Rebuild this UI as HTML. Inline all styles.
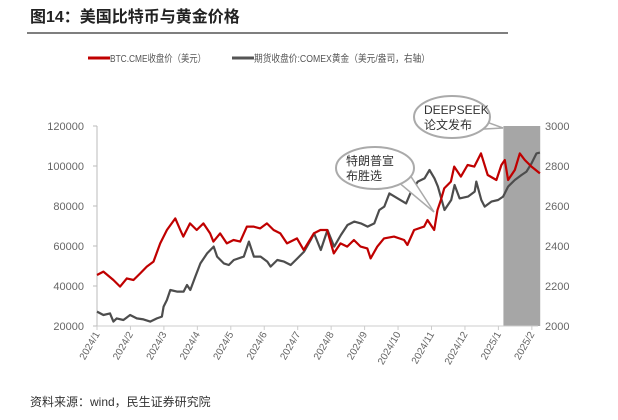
<!DOCTYPE html>
<html><head><meta charset="utf-8">
<style>
body{margin:0;background:#fff;width:618px;height:415px;overflow:hidden;font-family:"Liberation Sans","Noto Sans CJK SC",sans-serif;}
</style></head>
<body>
<svg id="c" width="618" height="415" xmlns="http://www.w3.org/2000/svg"></svg>
<script>
const btcT=[0,0.19,0.49,0.69,0.89,1.09,1.29,1.49,1.69,1.89,2.09,2.34,2.49,2.58,2.78,2.98,3.18,3.38,3.48,3.68,3.88,4.08,4.28,4.48,4.68,4.88,5.08,5.28,5.48,5.68,5.98,6.18,6.48,6.68,6.88,7.08,7.28,7.48,7.68,7.88,8.08,8.18,8.38,8.58,8.88,9.18,9.28,9.48,9.78,9.88,10.08,10.18,10.28,10.38,10.58,10.68,10.88,11.08,11.28,11.48,11.68,11.94,12.09,12.19,12.29,12.49,12.64,12.79,12.99,13.24];
const btcV=[45500,47200,43000,39700,43800,43000,46300,49700,52200,61300,68000,73800,68000,64700,71300,68000,71300,66300,62200,66300,61300,63000,62200,69700,69700,68800,71300,68000,66300,61300,63800,58000,66300,68000,68000,56300,61300,59700,63000,59700,58800,53800,59700,63800,64700,63000,60500,68000,69700,73000,68000,78000,83000,88800,92200,99700,94700,100500,99700,106300,95500,93000,100500,103000,93000,98000,106300,103000,99700,96300];
const goldT=[0,0.19,0.39,0.49,0.59,0.79,0.99,1.19,1.39,1.59,1.79,1.94,1.99,2.09,2.19,2.39,2.59,2.69,2.79,2.94,3.09,3.29,3.49,3.59,3.79,3.94,4.09,4.39,4.54,4.69,4.89,5.09,5.19,5.39,5.59,5.79,5.99,6.19,6.39,6.49,6.69,6.89,7.09,7.29,7.49,7.69,7.89,8.09,8.29,8.44,8.59,8.74,8.99,9.24,9.39,9.59,9.79,9.94,10.09,10.19,10.39,10.59,10.69,10.84,11.09,11.29,11.34,11.49,11.59,11.79,11.99,12.14,12.29,12.49,12.69,12.84,12.99,13.14,13.24];
const goldV=[2072,2055,2063,2022,2038,2030,2055,2038,2033,2022,2038,2047,2097,2130,2180,2172,2172,2205,2180,2247,2313,2363,2397,2347,2313,2305,2330,2347,2422,2347,2347,2322,2297,2330,2322,2305,2338,2372,2430,2463,2380,2480,2397,2455,2505,2522,2513,2497,2513,2580,2597,2663,2638,2613,2672,2722,2738,2780,2738,2697,2580,2630,2705,2638,2647,2672,2722,2630,2597,2622,2630,2647,2697,2730,2755,2772,2813,2863,2867];
const leftTicks=[20000,40000,60000,80000,100000,120000];
const rightTicks=[2000,2200,2400,2600,2800,3000];
const monthLabels=["2024/1","2024/2","2024/3","2024/4","2024/5","2024/6","2024/7","2024/8","2024/9","2024/10","2024/11","2024/12","2025/1","2025/2"];
const shadeRange=[12.15,13.25];

const NS="http://www.w3.org/2000/svg";
const svg=document.getElementById('c');
const X0=97,X1=538,Y0=326,Y1=126;
const xS=t=>X0+t*33.45;
const yL=v=>Y0-(v-20000)/100000*(Y0-Y1);
const yR=v=>Y0-(v-2000)/1000*(Y0-Y1);
function mk(tag,at,parent){const e=document.createElementNS(NS,tag);for(const k in at)e.setAttribute(k,at[k]);(parent||svg).appendChild(e);return e;}

const title=mk('text',{x:30,y:22,'font-size':16,'font-weight':'bold',fill:'#222'});title.textContent='图14：美国比特币与黄金价格';


const rule=mk('line',{x1:27,y1:33,x2:508,y2:33,stroke:'#555','stroke-width':1.5});



// legend
const lg=mk('g',{});


const l1=mk('line',{x1:88,y1:58,x2:110,y2:58,stroke:'#c00000','stroke-width':3},lg);


const t1=mk('text',{x:110,y:62,'font-size':10,fill:'#555',textLength:96,lengthAdjust:'spacingAndGlyphs'},lg);t1.textContent='BTC.CME收盘价（美元）';


const l2=mk('line',{x1:232,y1:58,x2:254,y2:58,stroke:'#555','stroke-width':3},lg);


const t2=mk('text',{x:254,y:62,'font-size':10,fill:'#555',textLength:176,lengthAdjust:'spacingAndGlyphs'},lg);t2.textContent='期货收盘价:COMEX黄金（美元/盎司，右轴）';



// shade
const sh=mk('rect',{x:xS(shadeRange[0]),y:Y1,width:xS(shadeRange[1])-xS(shadeRange[0]),height:Y0-Y1,fill:'#a6a6a6'});



// axes
const ax=mk('line',{x1:X0,y1:Y1,x2:X0,y2:Y0,stroke:'#bbb'});


const bx=mk('line',{x1:X0,y1:Y0,x2:X1,y2:Y0,stroke:'#ccc'});


leftTicks.forEach(v=>{
  const tk=mk('line',{x1:X0-4,y1:yL(v),x2:X0,y2:yL(v),stroke:'#bbb'});
  
  
  const t=mk('text',{x:X0-13,y:yL(v)+4,'font-size':11,fill:'#666','text-anchor':'end'});t.textContent=v;
  
  
});
rightTicks.forEach(v=>{
  const t=mk('text',{x:545,y:yR(v)+4,'font-size':11,fill:'#666'});t.textContent=v;
  
  
});
monthLabels.forEach((m,i)=>{
  const x=xS(i);
  const tk=mk('line',{x1:x,y1:Y0,x2:x,y2:Y0+4,stroke:'#ccc'});
  
  
  const t=mk('text',{x:x+3,y:Y0+8,'font-size':10,fill:'#666','text-anchor':'end',transform:`rotate(-60 ${x+3} ${Y0+8})`});t.textContent=m;
  
  
});

// series
const gp=mk('path',{d:goldT.map((t,i)=>(i?'L':'M')+xS(t).toFixed(1)+' '+yR(goldV[i]).toFixed(1)).join(''),fill:'none',stroke:'#4d4d4d','stroke-width':2.2,'stroke-linejoin':'round'});


const bp=mk('path',{d:btcT.map((t,i)=>(i?'L':'M')+xS(t).toFixed(1)+' '+yL(btcV[i]).toFixed(1)).join(''),fill:'none',stroke:'#c00000','stroke-width':2.2,'stroke-linejoin':'round'});



// callouts
function callout(cx,cy,rx,ry,tx,ty,lines,name){
  const g=mk('g',{});
  
  
  mk('path',{d:`M${cx+rx*0.55} ${cy+ry*0.6} L${tx} ${ty} L${cx+rx*0.85} ${cy+ry*0.2}`,fill:'#fff',stroke:'#aaa','stroke-width':1.5},g);
  mk('ellipse',{cx,cy,rx,ry,fill:'#fff',stroke:'#aaa','stroke-width':2},g);
  mk('path',{d:`M${cx+rx*0.5} ${cy+ry*0.7} L${cx+rx*0.9} ${cy+ry*0.1}`,stroke:'#fff','stroke-width':3},g);
  lines.forEach((s,i)=>{const t=mk('text',{x:cx-rx+10,y:cy-3+i*15,'font-size':12,fill:'#333'},g);t.textContent=s;});
}
callout(375,168,39,21,434,212,['特朗普宣','布胜选'],'trump-callout');
callout(452,117,38,21,503,128,['DEEPSEEK','论文发布'],'deepseek-callout');

const src=mk('text',{x:30,y:406,'font-size':12,fill:'#333'});src.textContent='资料来源：wind，民生证券研究院';


</script>
</body></html>
